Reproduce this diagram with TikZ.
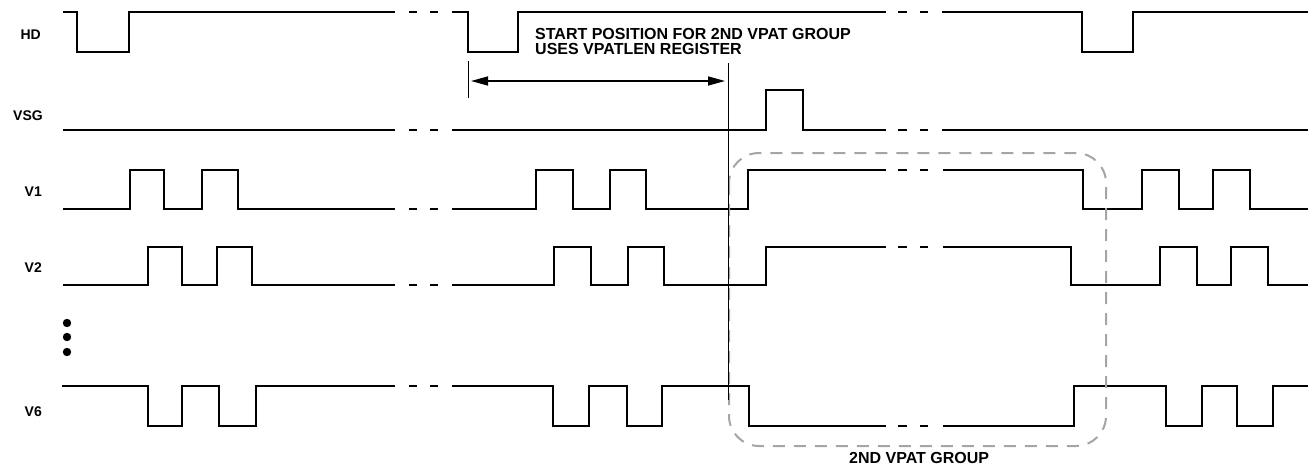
\documentclass[tikz,border=0pt]{standalone}
\usepackage{fontspec}
\setmainfont{Liberation Sans}
\usetikzlibrary{arrows.meta}
\begin{document}
\begin{tikzpicture}[x=1pt,y=-1pt,
  sig/.style={line width=2pt,line join=miter},
  brk/.style={line width=2pt},
  lbl/.style={font=\fontsize{14}{15}\selectfont\bfseries,inner sep=0pt},
  ann/.style={font=\fontsize{16}{14.5}\selectfont\bfseries,inner sep=0pt},
  gbox/.style={draw={rgb,255:red,165;green,165;blue,165},line width=2pt,dash pattern=on 12pt off 9pt,rounded corners=30pt},
  thin/.style={line width=1pt}]
\useasboundingbox (0,0) rectangle (1311,468);
% labels
\node[lbl,anchor=east] (lhd) at (41,35) {HD};
\node[lbl,anchor=east] (lvsg) at (43,116) {VSG};
\node[lbl,anchor=east] (lv1) at (42,192) {V1};
\node[lbl,anchor=east] (lv2) at (42,268) {V2};
\node[lbl,anchor=east] (lv6) at (42,412) {V6};
% dots
\fill (67,323) circle (4.2);
\fill (67,337) circle (4.2);
\fill (67,352) circle (4.2);
% break marks
\foreach \y in {12,130,209,285,386}{\draw[brk] (409,\y)--(417,\y) (430,\y)--(438,\y);}
\foreach \y in {12,130,170,247,426}{\draw[brk] (898,\y)--(907,\y) (920,\y)--(928,\y);}
% HD
\draw[sig] (63,12)--(77,12)--(77,52)--(129,52)--(129,12)--(395,12);
\draw[sig] (452,12)--(468,12)--(468,52)--(518,52)--(518,12)--(886,12);
\draw[sig] (942,12)--(1082,12)--(1082,52)--(1133,52)--(1133,12)--(1308,12);
% VSG
\draw[sig] (63,130)--(395,130);
\draw[sig] (452,130)--(766,130)--(766,90)--(803,90)--(803,130)--(886,130);
\draw[sig] (942,130)--(1308,130);
% V1
\def\H{170}\def\L{209}
\draw[sig] (63,\L)--(130,\L)--(130,\H)--(164,\H)--(164,\L)--(202,\L)--(202,\H)--(238,\H)--(238,\L)--(395,\L);
\draw[sig] (452,\L)--(536,\L)--(536,\H)--(573,\H)--(573,\L)--(610,\L)--(610,\H)--(646,\H)--(646,\L)--(748,\L)--(748,\H)--(886,\H);
\draw[sig] (943,\H)--(1083,\H)--(1083,\L)--(1142,\L)--(1142,\H)--(1179,\H)--(1179,\L)--(1213,\L)--(1213,\H)--(1250,\H)--(1250,\L)--(1308,\L);
% V2
\def\H{247}\def\L{285}
\draw[sig] (63,\L)--(148,\L)--(148,\H)--(182,\H)--(182,\L)--(217,\L)--(217,\H)--(252,\H)--(252,\L)--(395,\L);
\draw[sig] (452,\L)--(554,\L)--(554,\H)--(591,\H)--(591,\L)--(628,\L)--(628,\H)--(664,\H)--(664,\L)--(766,\L)--(766,\H)--(886,\H);
\draw[sig] (943,\H)--(1071,\H)--(1071,\L)--(1160,\L)--(1160,\H)--(1197,\H)--(1197,\L)--(1231,\L)--(1231,\H)--(1268,\H)--(1268,\L)--(1308,\L);
% V6
\def\H{386}\def\L{426}
\draw[sig] (62,\H)--(148,\H)--(148,\L)--(182,\L)--(182,\H)--(219,\H)--(219,\L)--(256,\L)--(256,\H)--(395,\H);
\draw[sig] (452,\H)--(553,\H)--(553,\L)--(589,\L)--(589,\H)--(627,\H)--(627,\L)--(662,\L)--(662,\H)--(749,\H)--(749,\L)--(886,\L);
\draw[sig] (943,\L)--(1074,\L)--(1074,\H)--(1166,\H)--(1166,\L)--(1202,\L)--(1202,\H)--(1237,\H)--(1237,\L)--(1273,\L)--(1273,\H)--(1308,\H);
% gray group box
\draw[gbox] (729,153) rectangle (1106,446);
% start position annotation
\coordinate (tkt) at (468,61);
\coordinate (tkb) at (468,98);
\coordinate (vlt) at (728,63);
\coordinate (vlb) at (728,400);
\coordinate (al) at (468,81);
\coordinate (ar) at (728,81);
\draw[thin] (tkt)--(tkb);
\draw[thin] (vlt)--(vlb);
\draw[line width=1.5pt,{Triangle[length=17pt,width=9pt]}-{Triangle[length=17pt,width=9pt]},shorten <=3pt,shorten >=3pt] (al)--(ar);
\node[ann,anchor=north west,align=left] (txt) at (535,28.5) {START POSITION FOR 2ND VPAT GROUP\\USES VPATLEN REGISTER};
\node[ann,anchor=north west] (grp) at (849,452.5) {2ND VPAT GROUP};
\end{tikzpicture}
\end{document}
